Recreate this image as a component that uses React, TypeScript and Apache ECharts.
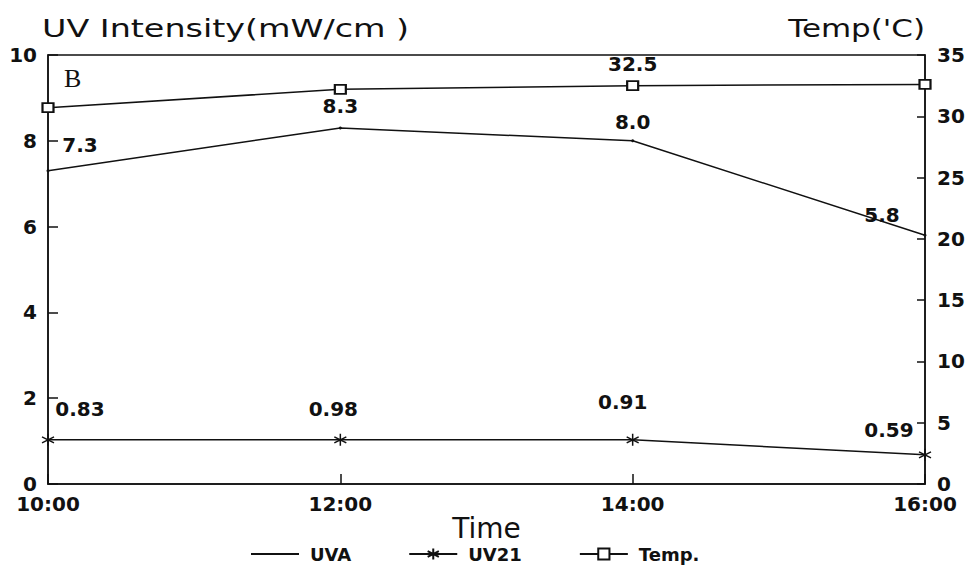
import React, { useEffect, useRef } from "react";
import * as echarts from "echarts";

const times = ["10:00", "12:00", "14:00", "16:00"];
const uvaValues = [7.3, 8.3, 8.0, 5.8];
const uv21Values = [1.03, 1.03, 1.03, 0.68];
const uv21Text = ["0.83", "0.98", "0.91", "0.59"];
const tempValues = [30.7, 32.2, 32.5, 32.6];
const tempText = ["", "", "32.5", ""];

const uvaOffsets = [[32, -9], [0, -5], [0, -2], [-43, -4]];
const uv21Offsets = [[32, -9], [-7, -9], [-10, -16], [-36, -3]];
const tempOffsets = [[0, 0], [0, 0], [0, -1], [0, 0]];

const FONT = "DejaVu Sans";
const INK = "#111";

export default function App() {
  const ref = useRef<HTMLDivElement>(null);
  useEffect(() => {
    if (!ref.current) return;
    const chart = echarts.init(ref.current, undefined, { renderer: "svg" });
    const labelStyle = {
      show: true,
      position: "top",
      color: INK,
      fontFamily: FONT,
      fontWeight: "bold",
      fontSize: 20,
    };
    chart.setOption({
      animation: false,
      backgroundColor: "#fff",
      grid: {
        left: 48,
        right: 47,
        top: 55,
        bottom: 82,
        show: true,
        borderColor: INK,
        borderWidth: 1.5,
      },
      graphic: [
        {
          type: "text",
          x: 42,
          y: 29,
          scaleX: 1.39,
          style: {
            text: "UV Intensity(mW/cm )",
            fill: INK,
            font: `24px "${FONT}"`,
            textAlign: "left",
            textVerticalAlign: "middle",
            verticalAlign: "middle",
          },
        },
        {
          type: "text",
          x: 925,
          y: 29,
          scaleX: 1.29,
          style: {
            text: "Temp('C)",
            fill: INK,
            font: `24px "${FONT}"`,
            textAlign: "right",
            textVerticalAlign: "middle",
            verticalAlign: "middle",
          },
        },
        {
          type: "text",
          x: 64,
          y: 78,
          style: {
            text: "B",
            fill: INK,
            font: `26px "Liberation Serif"`,
            textAlign: "left",
            textVerticalAlign: "middle",
            verticalAlign: "middle",
          },
        },
      ],
      legend: {
        left: 245,
        top: 540,
        itemWidth: 48,
        itemHeight: 14,
        itemGap: 57,
        textStyle: {
          color: INK,
          fontFamily: FONT,
          fontWeight: "bold",
          fontSize: 18,
          padding: [0, 0, 0, 6],
        },
        data: [
          { name: "UVA", itemStyle: { opacity: 0 } },
          { name: "UV21" },
          { name: "Temp." },
        ],
      },
      xAxis: {
        type: "category",
        data: times,
        boundaryGap: false,
        name: "Time",
        nameLocation: "middle",
        nameGap: 30,
        nameMoveOverlap: false,
        nameTextStyle: { color: INK, fontFamily: FONT, fontSize: 28 },
        axisLine: { lineStyle: { color: INK, width: 1.5 } },
        axisTick: { inside: true, length: 10, lineStyle: { color: INK, width: 1.5 } },
        axisLabel: {
          color: INK,
          fontFamily: FONT,
          fontWeight: "bold",
          fontSize: 20,
          margin: 10,
        },
        splitLine: { show: false },
      },
      yAxis: [
        {
          type: "value",
          min: 0,
          max: 10,
          interval: 2,
          position: "left",
          axisLine: { show: true, lineStyle: { color: INK, width: 1.5 } },
          axisTick: { show: true, inside: true, length: 10, lineStyle: { color: INK, width: 1.5 } },
          axisLabel: {
            color: INK,
            fontFamily: FONT,
            fontWeight: "bold",
            fontSize: 20,
            margin: 11,
          },
          splitLine: { show: false },
        },
        {
          type: "value",
          min: 0,
          max: 35,
          interval: 5,
          position: "right",
          axisLine: { show: true, lineStyle: { color: INK, width: 1.5 } },
          axisTick: { show: true, inside: true, length: 8, lineStyle: { color: INK, width: 1.5 } },
          axisLabel: {
            color: INK,
            fontFamily: FONT,
            fontWeight: "bold",
            fontSize: 20,
            margin: 12,
          },
          splitLine: { show: false },
        },
      ],
      series: [
        {
          name: "UVA",
          type: "line",
          yAxisIndex: 0,
          symbol: "circle",
          symbolSize: 3,
          lineStyle: { color: INK, width: 1.5 },
          itemStyle: { color: INK },
          data: uvaValues.map((v, i) => ({
            value: v,
            label: { ...labelStyle, offset: uvaOffsets[i], formatter: v.toFixed(1) },
          })),
        },
        {
          name: "UV21",
          type: "line",
          yAxisIndex: 0,
          symbol: "path://M5,0L5,10M0.67,2.5L9.33,7.5M0.67,7.5L9.33,2.5",
          symbolSize: 12,
          showAllSymbol: true,
          lineStyle: { color: INK, width: 1.5 },
          itemStyle: { color: INK, borderColor: INK, borderWidth: 1.5 },
          data: uv21Values.map((v, i) => ({
            value: v,
            label: { ...labelStyle, offset: uv21Offsets[i], formatter: uv21Text[i] },
          })),
        },
        {
          name: "Temp.",
          type: "line",
          yAxisIndex: 1,
          symbol: "emptyRect",
          symbolSize: [11, 9],
          lineStyle: { color: INK, width: 1.5 },
          itemStyle: { color: INK, borderColor: INK, borderWidth: 1.5 },
          data: tempValues.map((v, i) => ({
            value: v,
            label: tempText[i]
              ? { ...labelStyle, offset: tempOffsets[i], formatter: tempText[i] }
              : { show: false },
          })),
        },
      ],
    });
    return () => chart.dispose();
  }, []);
  return (
    <div
      ref={ref}
      style={{ position: "fixed", left: 0, top: 0, width: 972, height: 566 }}
    />
  );
}
